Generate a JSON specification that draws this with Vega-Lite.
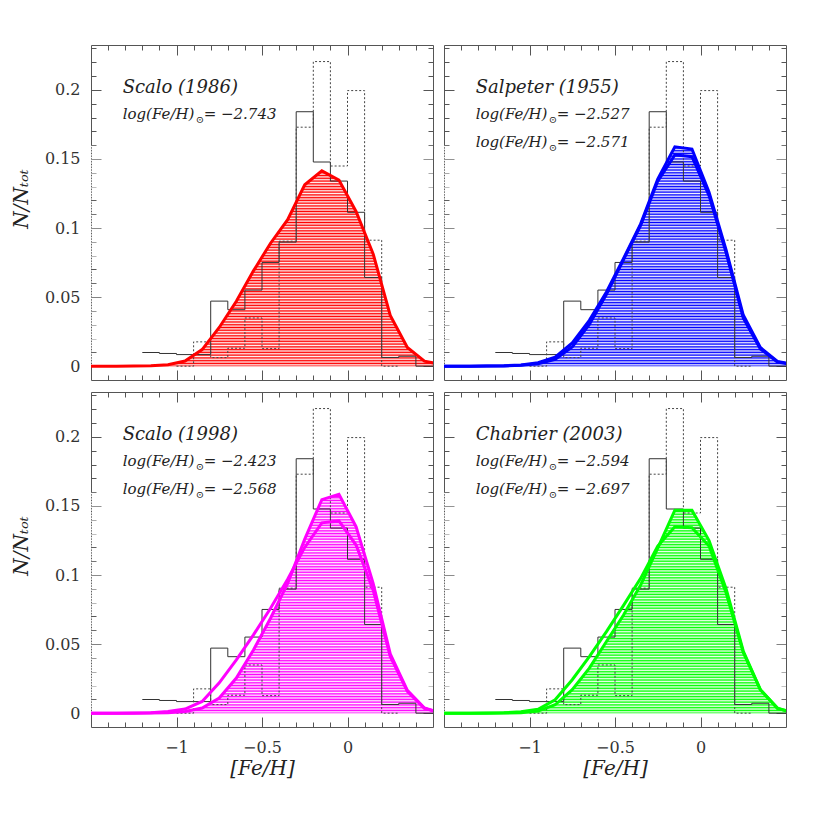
{
  "$schema": "https://vega.github.io/schema/vega-lite/v6.json",
  "background": "white",
  "padding": {"left": 11, "top": 44, "right": 5, "bottom": 5},
  "datasets": {
    "hist": [
      {"kind": "solid", "x": -1.2, "y": 0.0099},
      {"kind": "solid", "x": -1.1, "y": 0.0092},
      {"kind": "solid", "x": -1.0, "y": 0.0084},
      {"kind": "solid", "x": -0.9, "y": 0.0084},
      {"kind": "solid", "x": -0.8, "y": 0.0471},
      {"kind": "solid", "x": -0.7, "y": 0.0409},
      {"kind": "solid", "x": -0.6, "y": 0.0551},
      {"kind": "solid", "x": -0.5, "y": 0.0751},
      {"kind": "solid", "x": -0.4, "y": 0.0898},
      {"kind": "solid", "x": -0.3, "y": 0.1842},
      {"kind": "solid", "x": -0.2, "y": 0.1478},
      {"kind": "solid", "x": -0.1, "y": 0.134},
      {"kind": "solid", "x": 0.0, "y": 0.1114},
      {"kind": "solid", "x": 0.1, "y": 0.0642},
      {"kind": "solid", "x": 0.2, "y": 0.0063},
      {"kind": "solid", "x": 0.3, "y": 0.0072},
      {"kind": "solid", "x": 0.4, "y": 0},
      {"kind": "solid", "x": 0.5, "y": 0},
      {"kind": "dotted", "x": -1.0, "y": 0},
      {"kind": "dotted", "x": -0.9, "y": 0.0176},
      {"kind": "dotted", "x": -0.8, "y": 0.0062},
      {"kind": "dotted", "x": -0.7, "y": 0.013},
      {"kind": "dotted", "x": -0.6, "y": 0.0349},
      {"kind": "dotted", "x": -0.5, "y": 0.0127},
      {"kind": "dotted", "x": -0.4, "y": 0.0905},
      {"kind": "dotted", "x": -0.3, "y": 0.173},
      {"kind": "dotted", "x": -0.2, "y": 0.2205},
      {"kind": "dotted", "x": -0.1, "y": 0.1449},
      {"kind": "dotted", "x": 0.0, "y": 0.1995},
      {"kind": "dotted", "x": 0.1, "y": 0.0912},
      {"kind": "dotted", "x": 0.2, "y": 0},
      {"kind": "dotted", "x": 0.3, "y": 0}
    ],
    "curves": [
      {"panel": "p1", "series": "A", "x": -1.55, "y": 0},
      {"panel": "p1", "series": "A", "x": -1.45, "y": 0},
      {"panel": "p1", "series": "A", "x": -1.35, "y": 0},
      {"panel": "p1", "series": "A", "x": -1.25, "y": 0.0001},
      {"panel": "p1", "series": "A", "x": -1.15, "y": 0.0003},
      {"panel": "p1", "series": "A", "x": -1.05, "y": 0.001},
      {"panel": "p1", "series": "A", "x": -0.95, "y": 0.0037},
      {"panel": "p1", "series": "A", "x": -0.85, "y": 0.012},
      {"panel": "p1", "series": "A", "x": -0.75, "y": 0.028},
      {"panel": "p1", "series": "A", "x": -0.65, "y": 0.047},
      {"panel": "p1", "series": "A", "x": -0.55, "y": 0.069},
      {"panel": "p1", "series": "A", "x": -0.45, "y": 0.089},
      {"panel": "p1", "series": "A", "x": -0.35, "y": 0.106},
      {"panel": "p1", "series": "A", "x": -0.25, "y": 0.1313},
      {"panel": "p1", "series": "A", "x": -0.15, "y": 0.1414},
      {"panel": "p1", "series": "A", "x": -0.05, "y": 0.1347},
      {"panel": "p1", "series": "A", "x": 0.05, "y": 0.112},
      {"panel": "p1", "series": "A", "x": 0.15, "y": 0.0813},
      {"panel": "p1", "series": "A", "x": 0.25, "y": 0.0368},
      {"panel": "p1", "series": "A", "x": 0.35, "y": 0.0135},
      {"panel": "p1", "series": "A", "x": 0.45, "y": 0.0036},
      {"panel": "p1", "series": "A", "x": 0.55, "y": 0.0012},

      {"panel": "p2", "series": "A", "x": -1.55, "y": 0},
      {"panel": "p2", "series": "A", "x": -1.45, "y": 0},
      {"panel": "p2", "series": "A", "x": -1.35, "y": 0},
      {"panel": "p2", "series": "A", "x": -1.25, "y": 0.0001},
      {"panel": "p2", "series": "A", "x": -1.15, "y": 0.0003},
      {"panel": "p2", "series": "A", "x": -1.05, "y": 0.0009},
      {"panel": "p2", "series": "A", "x": -0.95, "y": 0.0025},
      {"panel": "p2", "series": "A", "x": -0.85, "y": 0.0065},
      {"panel": "p2", "series": "A", "x": -0.75, "y": 0.0168},
      {"panel": "p2", "series": "A", "x": -0.65, "y": 0.0332},
      {"panel": "p2", "series": "A", "x": -0.55, "y": 0.0537},
      {"panel": "p2", "series": "A", "x": -0.45, "y": 0.078},
      {"panel": "p2", "series": "A", "x": -0.35, "y": 0.103},
      {"panel": "p2", "series": "A", "x": -0.25, "y": 0.1355},
      {"panel": "p2", "series": "A", "x": -0.15, "y": 0.1588},
      {"panel": "p2", "series": "A", "x": -0.05, "y": 0.1572},
      {"panel": "p2", "series": "A", "x": 0.05, "y": 0.126},
      {"panel": "p2", "series": "A", "x": 0.15, "y": 0.084},
      {"panel": "p2", "series": "A", "x": 0.25, "y": 0.037},
      {"panel": "p2", "series": "A", "x": 0.35, "y": 0.0135},
      {"panel": "p2", "series": "A", "x": 0.45, "y": 0.0035},
      {"panel": "p2", "series": "A", "x": 0.55, "y": 0.001},
      {"panel": "p2", "series": "B", "x": -1.55, "y": 0},
      {"panel": "p2", "series": "B", "x": -1.45, "y": 0},
      {"panel": "p2", "series": "B", "x": -1.35, "y": 0},
      {"panel": "p2", "series": "B", "x": -1.25, "y": 0.0001},
      {"panel": "p2", "series": "B", "x": -1.15, "y": 0.0002},
      {"panel": "p2", "series": "B", "x": -1.05, "y": 0.0006},
      {"panel": "p2", "series": "B", "x": -0.95, "y": 0.0018},
      {"panel": "p2", "series": "B", "x": -0.85, "y": 0.005},
      {"panel": "p2", "series": "B", "x": -0.75, "y": 0.014},
      {"panel": "p2", "series": "B", "x": -0.65, "y": 0.0303},
      {"panel": "p2", "series": "B", "x": -0.55, "y": 0.052},
      {"panel": "p2", "series": "B", "x": -0.45, "y": 0.0772},
      {"panel": "p2", "series": "B", "x": -0.35, "y": 0.102},
      {"panel": "p2", "series": "B", "x": -0.25, "y": 0.134},
      {"panel": "p2", "series": "B", "x": -0.15, "y": 0.153},
      {"panel": "p2", "series": "B", "x": -0.05, "y": 0.1516},
      {"panel": "p2", "series": "B", "x": 0.05, "y": 0.1235},
      {"panel": "p2", "series": "B", "x": 0.15, "y": 0.082},
      {"panel": "p2", "series": "B", "x": 0.25, "y": 0.035},
      {"panel": "p2", "series": "B", "x": 0.35, "y": 0.0125},
      {"panel": "p2", "series": "B", "x": 0.45, "y": 0.003},
      {"panel": "p2", "series": "B", "x": 0.55, "y": 0.001},

      {"panel": "p3", "series": "A", "x": -1.55, "y": 0},
      {"panel": "p3", "series": "A", "x": -1.45, "y": 0},
      {"panel": "p3", "series": "A", "x": -1.35, "y": 0},
      {"panel": "p3", "series": "A", "x": -1.25, "y": 0},
      {"panel": "p3", "series": "A", "x": -1.15, "y": 0.0001},
      {"panel": "p3", "series": "A", "x": -1.05, "y": 0.0004},
      {"panel": "p3", "series": "A", "x": -0.95, "y": 0.0012},
      {"panel": "p3", "series": "A", "x": -0.85, "y": 0.0037},
      {"panel": "p3", "series": "A", "x": -0.75, "y": 0.011},
      {"panel": "p3", "series": "A", "x": -0.65, "y": 0.0254},
      {"panel": "p3", "series": "A", "x": -0.55, "y": 0.0458},
      {"panel": "p3", "series": "A", "x": -0.45, "y": 0.0687},
      {"panel": "p3", "series": "A", "x": -0.35, "y": 0.094},
      {"panel": "p3", "series": "A", "x": -0.25, "y": 0.126},
      {"panel": "p3", "series": "A", "x": -0.15, "y": 0.1546},
      {"panel": "p3", "series": "A", "x": -0.05, "y": 0.1585},
      {"panel": "p3", "series": "A", "x": 0.05, "y": 0.135},
      {"panel": "p3", "series": "A", "x": 0.15, "y": 0.094},
      {"panel": "p3", "series": "A", "x": 0.25, "y": 0.043},
      {"panel": "p3", "series": "A", "x": 0.35, "y": 0.0165},
      {"panel": "p3", "series": "A", "x": 0.45, "y": 0.0038},
      {"panel": "p3", "series": "A", "x": 0.55, "y": 0},
      {"panel": "p3", "series": "B", "x": -1.55, "y": 0},
      {"panel": "p3", "series": "B", "x": -1.45, "y": 0},
      {"panel": "p3", "series": "B", "x": -1.35, "y": 0},
      {"panel": "p3", "series": "B", "x": -1.25, "y": 0.0001},
      {"panel": "p3", "series": "B", "x": -1.15, "y": 0.0004},
      {"panel": "p3", "series": "B", "x": -1.05, "y": 0.0012},
      {"panel": "p3", "series": "B", "x": -0.95, "y": 0.003},
      {"panel": "p3", "series": "B", "x": -0.85, "y": 0.0085},
      {"panel": "p3", "series": "B", "x": -0.75, "y": 0.022},
      {"panel": "p3", "series": "B", "x": -0.65, "y": 0.0386},
      {"panel": "p3", "series": "B", "x": -0.55, "y": 0.0567},
      {"panel": "p3", "series": "B", "x": -0.45, "y": 0.076},
      {"panel": "p3", "series": "B", "x": -0.35, "y": 0.097},
      {"panel": "p3", "series": "B", "x": -0.25, "y": 0.12},
      {"panel": "p3", "series": "B", "x": -0.15, "y": 0.1378},
      {"panel": "p3", "series": "B", "x": -0.05, "y": 0.1392},
      {"panel": "p3", "series": "B", "x": 0.05, "y": 0.1217},
      {"panel": "p3", "series": "B", "x": 0.15, "y": 0.089},
      {"panel": "p3", "series": "B", "x": 0.25, "y": 0.041},
      {"panel": "p3", "series": "B", "x": 0.35, "y": 0.0158},
      {"panel": "p3", "series": "B", "x": 0.45, "y": 0.0035},
      {"panel": "p3", "series": "B", "x": 0.55, "y": 0},

      {"panel": "p4", "series": "A", "x": -1.55, "y": 0},
      {"panel": "p4", "series": "A", "x": -1.45, "y": 0},
      {"panel": "p4", "series": "A", "x": -1.35, "y": 0},
      {"panel": "p4", "series": "A", "x": -1.25, "y": 0},
      {"panel": "p4", "series": "A", "x": -1.15, "y": 0.0001},
      {"panel": "p4", "series": "A", "x": -1.05, "y": 0.0004},
      {"panel": "p4", "series": "A", "x": -0.95, "y": 0.0015},
      {"panel": "p4", "series": "A", "x": -0.85, "y": 0.0061},
      {"panel": "p4", "series": "A", "x": -0.75, "y": 0.017},
      {"panel": "p4", "series": "A", "x": -0.65, "y": 0.0326},
      {"panel": "p4", "series": "A", "x": -0.55, "y": 0.0519},
      {"panel": "p4", "series": "A", "x": -0.45, "y": 0.0711},
      {"panel": "p4", "series": "A", "x": -0.35, "y": 0.0928},
      {"panel": "p4", "series": "A", "x": -0.25, "y": 0.1195},
      {"panel": "p4", "series": "A", "x": -0.15, "y": 0.1469},
      {"panel": "p4", "series": "A", "x": -0.05, "y": 0.1469},
      {"panel": "p4", "series": "A", "x": 0.05, "y": 0.125},
      {"panel": "p4", "series": "A", "x": 0.15, "y": 0.09},
      {"panel": "p4", "series": "A", "x": 0.25, "y": 0.045},
      {"panel": "p4", "series": "A", "x": 0.35, "y": 0.017},
      {"panel": "p4", "series": "A", "x": 0.45, "y": 0.0037},
      {"panel": "p4", "series": "A", "x": 0.55, "y": 0},
      {"panel": "p4", "series": "B", "x": -1.55, "y": 0},
      {"panel": "p4", "series": "B", "x": -1.45, "y": 0},
      {"panel": "p4", "series": "B", "x": -1.35, "y": 0},
      {"panel": "p4", "series": "B", "x": -1.25, "y": 0.0001},
      {"panel": "p4", "series": "B", "x": -1.15, "y": 0.0003},
      {"panel": "p4", "series": "B", "x": -1.05, "y": 0.001},
      {"panel": "p4", "series": "B", "x": -0.95, "y": 0.0028},
      {"panel": "p4", "series": "B", "x": -0.85, "y": 0.0097},
      {"panel": "p4", "series": "B", "x": -0.75, "y": 0.0242},
      {"panel": "p4", "series": "B", "x": -0.65, "y": 0.041},
      {"panel": "p4", "series": "B", "x": -0.55, "y": 0.059},
      {"panel": "p4", "series": "B", "x": -0.45, "y": 0.078},
      {"panel": "p4", "series": "B", "x": -0.35, "y": 0.0976},
      {"panel": "p4", "series": "B", "x": -0.25, "y": 0.121},
      {"panel": "p4", "series": "B", "x": -0.15, "y": 0.1349},
      {"panel": "p4", "series": "B", "x": -0.05, "y": 0.1342},
      {"panel": "p4", "series": "B", "x": 0.05, "y": 0.121},
      {"panel": "p4", "series": "B", "x": 0.15, "y": 0.087},
      {"panel": "p4", "series": "B", "x": 0.25, "y": 0.044},
      {"panel": "p4", "series": "B", "x": 0.35, "y": 0.017},
      {"panel": "p4", "series": "B", "x": 0.45, "y": 0.0035},
      {"panel": "p4", "series": "B", "x": 0.55, "y": 0}
    ],
    "notes": [
      {"panel": "p1", "kind": "title", "label": "Scalo (1986)", "x": -1.315, "y": 0.1975},
      {"panel": "p1", "kind": "log", "label": "= −2.743", "x": -1.315, "y": 0.179},
      {"panel": "p2", "kind": "title", "label": "Salpeter (1955)", "x": -1.315, "y": 0.1975},
      {"panel": "p2", "kind": "log", "label": "= −2.527", "x": -1.315, "y": 0.179},
      {"panel": "p2", "kind": "log", "label": "= −2.571", "x": -1.315, "y": 0.1585},
      {"panel": "p3", "kind": "title", "label": "Scalo (1998)", "x": -1.315, "y": 0.1975},
      {"panel": "p3", "kind": "log", "label": "= −2.423", "x": -1.315, "y": 0.179},
      {"panel": "p3", "kind": "log", "label": "= −2.568", "x": -1.315, "y": 0.1585},
      {"panel": "p4", "kind": "title", "label": "Chabrier (2003)", "x": -1.315, "y": 0.1975},
      {"panel": "p4", "kind": "log", "label": "= −2.594", "x": -1.315, "y": 0.179},
      {"panel": "p4", "kind": "log", "label": "= −2.697", "x": -1.315, "y": 0.1585}
    ]
  },
  "columns": 2,
  "spacing": {"row": 12, "column": 11},
  "bounds": "flush",
  "concat": [
    {
      "width": 342, "height": 335,
      "resolve": {"axis": {"x": "independent", "y": "independent"}},
      "layer": [
        {"data": {"name": "curves"}, "transform": [{"filter": "datum.panel == 'p1' && datum.series == 'A'"}],
         "mark": {"type": "area", "color": "#ff0000", "clip": true},
         "encoding": {
           "x": {"field": "x", "type": "quantitative", "scale": {"domain": [-1.5, 0.5], "nice": false, "zero": false}, "axis": {"orient": "bottom", "values": [-1, -0.5, 0], "tickSize": -10, "labels": false, "title": null}},
           "y": {"field": "y", "type": "quantitative", "scale": {"domain": [-0.01, 0.2325], "nice": false, "zero": false}, "axis": {"orient": "left", "values": [0, 0.05, 0.1, 0.15, 0.2], "format": "~g", "tickSize": -10, "labelPadding": 21, "title": "N/Nₜₒₜ", "titleX": -70, "titleY": 153.5, "titleAngle": -90, "titleAlign": "center", "titleBaseline": "middle"}},
           "y2": {"datum": 0}}},
        {"data": {"values": [{"band": "hatch"}]},
         "mark": {"type": "rect", "clip": true, "strokeWidth": 0, "fill": {"gradient": "linear", "x1": 0, "y1": 0, "x2": 0, "y2": 1, "stops": [
            {"offset": 0, "color": "rgba(255,255,255,0)"}, {"offset": 0.00625, "color": "rgba(255,255,255,0.95)"}, {"offset": 0.0125, "color": "rgba(255,255,255,0)"}, {"offset": 0.01875, "color": "rgba(255,255,255,0.95)"},
            {"offset": 0.025, "color": "rgba(255,255,255,0)"}, {"offset": 0.03125, "color": "rgba(255,255,255,0.95)"}, {"offset": 0.0375, "color": "rgba(255,255,255,0)"}, {"offset": 0.04375, "color": "rgba(255,255,255,0.95)"},
            {"offset": 0.05, "color": "rgba(255,255,255,0)"}, {"offset": 0.05625, "color": "rgba(255,255,255,0.95)"}, {"offset": 0.0625, "color": "rgba(255,255,255,0)"}, {"offset": 0.06875, "color": "rgba(255,255,255,0.95)"},
            {"offset": 0.075, "color": "rgba(255,255,255,0)"}, {"offset": 0.08125, "color": "rgba(255,255,255,0.95)"}, {"offset": 0.0875, "color": "rgba(255,255,255,0)"}, {"offset": 0.09375, "color": "rgba(255,255,255,0.95)"},
            {"offset": 0.1, "color": "rgba(255,255,255,0)"}, {"offset": 0.10625, "color": "rgba(255,255,255,0.95)"}, {"offset": 0.1125, "color": "rgba(255,255,255,0)"}, {"offset": 0.11875, "color": "rgba(255,255,255,0.95)"},
            {"offset": 0.125, "color": "rgba(255,255,255,0)"}, {"offset": 0.13125, "color": "rgba(255,255,255,0.95)"}, {"offset": 0.1375, "color": "rgba(255,255,255,0)"}, {"offset": 0.14375, "color": "rgba(255,255,255,0.95)"},
            {"offset": 0.15, "color": "rgba(255,255,255,0)"}, {"offset": 0.15625, "color": "rgba(255,255,255,0.95)"}, {"offset": 0.1625, "color": "rgba(255,255,255,0)"}, {"offset": 0.16875, "color": "rgba(255,255,255,0.95)"},
            {"offset": 0.175, "color": "rgba(255,255,255,0)"}, {"offset": 0.18125, "color": "rgba(255,255,255,0.95)"}, {"offset": 0.1875, "color": "rgba(255,255,255,0)"}, {"offset": 0.19375, "color": "rgba(255,255,255,0.95)"},
            {"offset": 0.2, "color": "rgba(255,255,255,0)"}, {"offset": 0.20625, "color": "rgba(255,255,255,0.95)"}, {"offset": 0.2125, "color": "rgba(255,255,255,0)"}, {"offset": 0.21875, "color": "rgba(255,255,255,0.95)"},
            {"offset": 0.225, "color": "rgba(255,255,255,0)"}, {"offset": 0.23125, "color": "rgba(255,255,255,0.95)"}, {"offset": 0.2375, "color": "rgba(255,255,255,0)"}, {"offset": 0.24375, "color": "rgba(255,255,255,0.95)"},
            {"offset": 0.25, "color": "rgba(255,255,255,0)"}, {"offset": 0.25625, "color": "rgba(255,255,255,0.95)"}, {"offset": 0.2625, "color": "rgba(255,255,255,0)"}, {"offset": 0.26875, "color": "rgba(255,255,255,0.95)"},
            {"offset": 0.275, "color": "rgba(255,255,255,0)"}, {"offset": 0.28125, "color": "rgba(255,255,255,0.95)"}, {"offset": 0.2875, "color": "rgba(255,255,255,0)"}, {"offset": 0.29375, "color": "rgba(255,255,255,0.95)"},
            {"offset": 0.3, "color": "rgba(255,255,255,0)"}, {"offset": 0.30625, "color": "rgba(255,255,255,0.95)"}, {"offset": 0.3125, "color": "rgba(255,255,255,0)"}, {"offset": 0.31875, "color": "rgba(255,255,255,0.95)"},
            {"offset": 0.325, "color": "rgba(255,255,255,0)"}, {"offset": 0.33125, "color": "rgba(255,255,255,0.95)"}, {"offset": 0.3375, "color": "rgba(255,255,255,0)"}, {"offset": 0.34375, "color": "rgba(255,255,255,0.95)"},
            {"offset": 0.35, "color": "rgba(255,255,255,0)"}, {"offset": 0.35625, "color": "rgba(255,255,255,0.95)"}, {"offset": 0.3625, "color": "rgba(255,255,255,0)"}, {"offset": 0.36875, "color": "rgba(255,255,255,0.95)"},
            {"offset": 0.375, "color": "rgba(255,255,255,0)"}, {"offset": 0.38125, "color": "rgba(255,255,255,0.95)"}, {"offset": 0.3875, "color": "rgba(255,255,255,0)"}, {"offset": 0.39375, "color": "rgba(255,255,255,0.95)"},
            {"offset": 0.4, "color": "rgba(255,255,255,0)"}, {"offset": 0.40625, "color": "rgba(255,255,255,0.95)"}, {"offset": 0.4125, "color": "rgba(255,255,255,0)"}, {"offset": 0.41875, "color": "rgba(255,255,255,0.95)"},
            {"offset": 0.425, "color": "rgba(255,255,255,0)"}, {"offset": 0.43125, "color": "rgba(255,255,255,0.95)"}, {"offset": 0.4375, "color": "rgba(255,255,255,0)"}, {"offset": 0.44375, "color": "rgba(255,255,255,0.95)"},
            {"offset": 0.45, "color": "rgba(255,255,255,0)"}, {"offset": 0.45625, "color": "rgba(255,255,255,0.95)"}, {"offset": 0.4625, "color": "rgba(255,255,255,0)"}, {"offset": 0.46875, "color": "rgba(255,255,255,0.95)"},
            {"offset": 0.475, "color": "rgba(255,255,255,0)"}, {"offset": 0.48125, "color": "rgba(255,255,255,0.95)"}, {"offset": 0.4875, "color": "rgba(255,255,255,0)"}, {"offset": 0.49375, "color": "rgba(255,255,255,0.95)"},
            {"offset": 0.5, "color": "rgba(255,255,255,0)"}, {"offset": 0.50625, "color": "rgba(255,255,255,0.95)"}, {"offset": 0.5125, "color": "rgba(255,255,255,0)"}, {"offset": 0.51875, "color": "rgba(255,255,255,0.95)"},
            {"offset": 0.525, "color": "rgba(255,255,255,0)"}, {"offset": 0.53125, "color": "rgba(255,255,255,0.95)"}, {"offset": 0.5375, "color": "rgba(255,255,255,0)"}, {"offset": 0.54375, "color": "rgba(255,255,255,0.95)"},
            {"offset": 0.55, "color": "rgba(255,255,255,0)"}, {"offset": 0.55625, "color": "rgba(255,255,255,0.95)"}, {"offset": 0.5625, "color": "rgba(255,255,255,0)"}, {"offset": 0.56875, "color": "rgba(255,255,255,0.95)"},
            {"offset": 0.575, "color": "rgba(255,255,255,0)"}, {"offset": 0.58125, "color": "rgba(255,255,255,0.95)"}, {"offset": 0.5875, "color": "rgba(255,255,255,0)"}, {"offset": 0.59375, "color": "rgba(255,255,255,0.95)"},
            {"offset": 0.6, "color": "rgba(255,255,255,0)"}, {"offset": 0.60625, "color": "rgba(255,255,255,0.95)"}, {"offset": 0.6125, "color": "rgba(255,255,255,0)"}, {"offset": 0.61875, "color": "rgba(255,255,255,0.95)"},
            {"offset": 0.625, "color": "rgba(255,255,255,0)"}, {"offset": 0.63125, "color": "rgba(255,255,255,0.95)"}, {"offset": 0.6375, "color": "rgba(255,255,255,0)"}, {"offset": 0.64375, "color": "rgba(255,255,255,0.95)"},
            {"offset": 0.65, "color": "rgba(255,255,255,0)"}, {"offset": 0.65625, "color": "rgba(255,255,255,0.95)"}, {"offset": 0.6625, "color": "rgba(255,255,255,0)"}, {"offset": 0.66875, "color": "rgba(255,255,255,0.95)"},
            {"offset": 0.675, "color": "rgba(255,255,255,0)"}, {"offset": 0.68125, "color": "rgba(255,255,255,0.95)"}, {"offset": 0.6875, "color": "rgba(255,255,255,0)"}, {"offset": 0.69375, "color": "rgba(255,255,255,0.95)"},
            {"offset": 0.7, "color": "rgba(255,255,255,0)"}, {"offset": 0.70625, "color": "rgba(255,255,255,0.95)"}, {"offset": 0.7125, "color": "rgba(255,255,255,0)"}, {"offset": 0.71875, "color": "rgba(255,255,255,0.95)"},
            {"offset": 0.725, "color": "rgba(255,255,255,0)"}, {"offset": 0.73125, "color": "rgba(255,255,255,0.95)"}, {"offset": 0.7375, "color": "rgba(255,255,255,0)"}, {"offset": 0.74375, "color": "rgba(255,255,255,0.95)"},
            {"offset": 0.75, "color": "rgba(255,255,255,0)"}, {"offset": 0.75625, "color": "rgba(255,255,255,0.95)"}, {"offset": 0.7625, "color": "rgba(255,255,255,0)"}, {"offset": 0.76875, "color": "rgba(255,255,255,0.95)"},
            {"offset": 0.775, "color": "rgba(255,255,255,0)"}, {"offset": 0.78125, "color": "rgba(255,255,255,0.95)"}, {"offset": 0.7875, "color": "rgba(255,255,255,0)"}, {"offset": 0.79375, "color": "rgba(255,255,255,0.95)"},
            {"offset": 0.8, "color": "rgba(255,255,255,0)"}, {"offset": 0.80625, "color": "rgba(255,255,255,0.95)"}, {"offset": 0.8125, "color": "rgba(255,255,255,0)"}, {"offset": 0.81875, "color": "rgba(255,255,255,0.95)"},
            {"offset": 0.825, "color": "rgba(255,255,255,0)"}, {"offset": 0.83125, "color": "rgba(255,255,255,0.95)"}, {"offset": 0.8375, "color": "rgba(255,255,255,0)"}, {"offset": 0.84375, "color": "rgba(255,255,255,0.95)"},
            {"offset": 0.85, "color": "rgba(255,255,255,0)"}, {"offset": 0.85625, "color": "rgba(255,255,255,0.95)"}, {"offset": 0.8625, "color": "rgba(255,255,255,0)"}, {"offset": 0.86875, "color": "rgba(255,255,255,0.95)"},
            {"offset": 0.875, "color": "rgba(255,255,255,0)"}, {"offset": 0.88125, "color": "rgba(255,255,255,0.95)"}, {"offset": 0.8875, "color": "rgba(255,255,255,0)"}, {"offset": 0.89375, "color": "rgba(255,255,255,0.95)"},
            {"offset": 0.9, "color": "rgba(255,255,255,0)"}, {"offset": 0.90625, "color": "rgba(255,255,255,0.95)"}, {"offset": 0.9125, "color": "rgba(255,255,255,0)"}, {"offset": 0.91875, "color": "rgba(255,255,255,0.95)"},
            {"offset": 0.925, "color": "rgba(255,255,255,0)"}, {"offset": 0.93125, "color": "rgba(255,255,255,0.95)"}, {"offset": 0.9375, "color": "rgba(255,255,255,0)"}, {"offset": 0.94375, "color": "rgba(255,255,255,0.95)"},
            {"offset": 0.95, "color": "rgba(255,255,255,0)"}, {"offset": 0.95625, "color": "rgba(255,255,255,0.95)"}, {"offset": 0.9625, "color": "rgba(255,255,255,0)"}, {"offset": 0.96875, "color": "rgba(255,255,255,0.95)"},
            {"offset": 0.975, "color": "rgba(255,255,255,0)"}, {"offset": 0.98125, "color": "rgba(255,255,255,0.95)"}, {"offset": 0.9875, "color": "rgba(255,255,255,0)"}, {"offset": 0.99375, "color": "rgba(255,255,255,0.95)"},
            {"offset": 1, "color": "rgba(255,255,255,0)"}]}},
         "encoding": {
           "x": {"datum": -1.5, "type": "quantitative", "scale": {"domain": [-1.5, 0.5], "nice": false, "zero": false}, "axis": null},
           "x2": {"datum": 0.5},
           "y": {"datum": 0, "type": "quantitative", "scale": {"domain": [-0.01, 0.2325], "nice": false, "zero": false}, "axis": null},
           "y2": {"datum": 0.16}}},
        {"data": {"name": "hist"}, "transform": [{"filter": "datum.kind == 'solid'"}],
         "mark": {"type": "line", "interpolate": "step-after", "color": "#333", "strokeWidth": 1, "clip": true},
         "encoding": {
           "x": {"field": "x", "type": "quantitative", "scale": {"domain": [-1.5, 0.5], "nice": false, "zero": false}, "axis": {"orient": "top", "values": [-1, -0.5, 0], "tickSize": -10, "labels": false, "title": null}},
           "y": {"field": "y", "type": "quantitative", "scale": {"domain": [-0.01, 0.2325], "nice": false, "zero": false}, "axis": {"orient": "right", "values": [0, 0.05, 0.1, 0.15, 0.2], "tickSize": -10, "labels": false, "title": null}}}},
        {"data": {"name": "hist"}, "transform": [{"filter": "datum.kind == 'dotted'"}],
         "mark": {"type": "line", "interpolate": "step-after", "color": "#444", "strokeWidth": 1, "strokeDash": [2, 2], "clip": true},
         "encoding": {
           "x": {"field": "x", "type": "quantitative", "scale": {"domain": [-1.5, 0.5], "nice": false, "zero": false}, "axis": {"orient": "bottom", "values": [-1.4, -1.3, -1.2, -1.1, -0.9, -0.8, -0.7, -0.6, -0.4, -0.3, -0.2, -0.1, 0.1, 0.2, 0.3, 0.4], "tickSize": -5, "labels": false, "domain": false, "title": null}},
           "y": {"field": "y", "type": "quantitative", "scale": {"domain": [-0.01, 0.2325], "nice": false, "zero": false}, "axis": {"orient": "left", "values": [0.01, 0.02, 0.03, 0.04, 0.06, 0.07, 0.08, 0.09, 0.11, 0.12, 0.13, 0.14, 0.16, 0.17, 0.18, 0.19, 0.21, 0.22, 0.23], "tickSize": -5, "labels": false, "domain": false, "title": null}}}},
        {"data": {"name": "curves"}, "transform": [{"filter": "datum.panel == 'p1'"}],
         "mark": {"type": "line", "color": "#ff0000", "strokeWidth": 3, "clip": true},
         "encoding": {
           "x": {"field": "x", "type": "quantitative", "scale": {"domain": [-1.5, 0.5], "nice": false, "zero": false}, "axis": {"orient": "top", "values": [-1.4, -1.3, -1.2, -1.1, -0.9, -0.8, -0.7, -0.6, -0.4, -0.3, -0.2, -0.1, 0.1, 0.2, 0.3, 0.4], "tickSize": -5, "labels": false, "domain": false, "title": null}},
           "y": {"field": "y", "type": "quantitative", "scale": {"domain": [-0.01, 0.2325], "nice": false, "zero": false}, "axis": {"orient": "right", "values": [0.01, 0.02, 0.03, 0.04, 0.06, 0.07, 0.08, 0.09, 0.11, 0.12, 0.13, 0.14, 0.16, 0.17, 0.18, 0.19, 0.21, 0.22, 0.23], "tickSize": -5, "labels": false, "domain": false, "title": null}},
           "detail": {"field": "series"}}},
        {"data": {"name": "notes"}, "transform": [{"filter": "datum.panel == 'p1' && datum.kind == 'title'"}],
         "mark": {"type": "text", "align": "left", "baseline": "alphabetic", "font": "DejaVu Serif", "fontStyle": "italic", "fontSize": 18, "color": "#222"},
         "encoding": {"x": {"field": "x", "type": "quantitative", "axis": null}, "y": {"field": "y", "type": "quantitative", "axis": null}, "text": {"field": "label"}}},
        {"data": {"name": "notes"}, "transform": [{"filter": "datum.panel == 'p1' && datum.kind == 'log'"}],
         "mark": {"type": "text", "text": "log(Fe/H)", "align": "left", "baseline": "alphabetic", "font": "DejaVu Serif", "fontStyle": "italic", "fontSize": 15, "color": "#222"},
         "encoding": {"x": {"field": "x", "type": "quantitative", "axis": null}, "y": {"field": "y", "type": "quantitative", "axis": null}}},
        {"data": {"name": "notes"}, "transform": [{"filter": "datum.panel == 'p1' && datum.kind == 'log'"}],
         "mark": {"type": "text", "text": "⊙", "align": "left", "baseline": "alphabetic", "dx": 73, "dy": 4, "font": "DejaVu Serif", "fontSize": 10, "color": "#222"},
         "encoding": {"x": {"field": "x", "type": "quantitative", "axis": null}, "y": {"field": "y", "type": "quantitative", "axis": null}}},
        {"data": {"name": "notes"}, "transform": [{"filter": "datum.panel == 'p1' && datum.kind == 'log'"}],
         "mark": {"type": "text", "align": "left", "baseline": "alphabetic", "dx": 81, "font": "DejaVu Serif", "fontStyle": "italic", "fontSize": 15, "color": "#222"},
         "encoding": {"x": {"field": "x", "type": "quantitative", "axis": null}, "y": {"field": "y", "type": "quantitative", "axis": null}, "text": {"field": "label"}}}
      ]
    },
    {
      "width": 342, "height": 335,
      "resolve": {"axis": {"x": "independent", "y": "independent"}},
      "layer": [
        {"data": {"name": "curves"}, "transform": [{"filter": "datum.panel == 'p2' && datum.series == 'A'"}],
         "mark": {"type": "area", "color": "#0000ff", "clip": true},
         "encoding": {
           "x": {"field": "x", "type": "quantitative", "scale": {"domain": [-1.5, 0.5], "nice": false, "zero": false}, "axis": {"orient": "bottom", "values": [-1, -0.5, 0], "tickSize": -10, "labels": false, "title": null}},
           "y": {"field": "y", "type": "quantitative", "scale": {"domain": [-0.01, 0.2325], "nice": false, "zero": false}, "axis": {"orient": "left", "values": [0, 0.05, 0.1, 0.15, 0.2], "tickSize": -10, "labels": false, "title": null}},
           "y2": {"datum": 0}}},
        {"data": {"values": [{"band": "hatch"}]},
         "mark": {"type": "rect", "clip": true, "strokeWidth": 0, "fill": {"gradient": "linear", "x1": 0, "y1": 0, "x2": 0, "y2": 1, "stops": [
            {"offset": 0, "color": "rgba(255,255,255,0)"}, {"offset": 0.00625, "color": "rgba(255,255,255,0.95)"}, {"offset": 0.0125, "color": "rgba(255,255,255,0)"}, {"offset": 0.01875, "color": "rgba(255,255,255,0.95)"},
            {"offset": 0.025, "color": "rgba(255,255,255,0)"}, {"offset": 0.03125, "color": "rgba(255,255,255,0.95)"}, {"offset": 0.0375, "color": "rgba(255,255,255,0)"}, {"offset": 0.04375, "color": "rgba(255,255,255,0.95)"},
            {"offset": 0.05, "color": "rgba(255,255,255,0)"}, {"offset": 0.05625, "color": "rgba(255,255,255,0.95)"}, {"offset": 0.0625, "color": "rgba(255,255,255,0)"}, {"offset": 0.06875, "color": "rgba(255,255,255,0.95)"},
            {"offset": 0.075, "color": "rgba(255,255,255,0)"}, {"offset": 0.08125, "color": "rgba(255,255,255,0.95)"}, {"offset": 0.0875, "color": "rgba(255,255,255,0)"}, {"offset": 0.09375, "color": "rgba(255,255,255,0.95)"},
            {"offset": 0.1, "color": "rgba(255,255,255,0)"}, {"offset": 0.10625, "color": "rgba(255,255,255,0.95)"}, {"offset": 0.1125, "color": "rgba(255,255,255,0)"}, {"offset": 0.11875, "color": "rgba(255,255,255,0.95)"},
            {"offset": 0.125, "color": "rgba(255,255,255,0)"}, {"offset": 0.13125, "color": "rgba(255,255,255,0.95)"}, {"offset": 0.1375, "color": "rgba(255,255,255,0)"}, {"offset": 0.14375, "color": "rgba(255,255,255,0.95)"},
            {"offset": 0.15, "color": "rgba(255,255,255,0)"}, {"offset": 0.15625, "color": "rgba(255,255,255,0.95)"}, {"offset": 0.1625, "color": "rgba(255,255,255,0)"}, {"offset": 0.16875, "color": "rgba(255,255,255,0.95)"},
            {"offset": 0.175, "color": "rgba(255,255,255,0)"}, {"offset": 0.18125, "color": "rgba(255,255,255,0.95)"}, {"offset": 0.1875, "color": "rgba(255,255,255,0)"}, {"offset": 0.19375, "color": "rgba(255,255,255,0.95)"},
            {"offset": 0.2, "color": "rgba(255,255,255,0)"}, {"offset": 0.20625, "color": "rgba(255,255,255,0.95)"}, {"offset": 0.2125, "color": "rgba(255,255,255,0)"}, {"offset": 0.21875, "color": "rgba(255,255,255,0.95)"},
            {"offset": 0.225, "color": "rgba(255,255,255,0)"}, {"offset": 0.23125, "color": "rgba(255,255,255,0.95)"}, {"offset": 0.2375, "color": "rgba(255,255,255,0)"}, {"offset": 0.24375, "color": "rgba(255,255,255,0.95)"},
            {"offset": 0.25, "color": "rgba(255,255,255,0)"}, {"offset": 0.25625, "color": "rgba(255,255,255,0.95)"}, {"offset": 0.2625, "color": "rgba(255,255,255,0)"}, {"offset": 0.26875, "color": "rgba(255,255,255,0.95)"},
            {"offset": 0.275, "color": "rgba(255,255,255,0)"}, {"offset": 0.28125, "color": "rgba(255,255,255,0.95)"}, {"offset": 0.2875, "color": "rgba(255,255,255,0)"}, {"offset": 0.29375, "color": "rgba(255,255,255,0.95)"},
            {"offset": 0.3, "color": "rgba(255,255,255,0)"}, {"offset": 0.30625, "color": "rgba(255,255,255,0.95)"}, {"offset": 0.3125, "color": "rgba(255,255,255,0)"}, {"offset": 0.31875, "color": "rgba(255,255,255,0.95)"},
            {"offset": 0.325, "color": "rgba(255,255,255,0)"}, {"offset": 0.33125, "color": "rgba(255,255,255,0.95)"}, {"offset": 0.3375, "color": "rgba(255,255,255,0)"}, {"offset": 0.34375, "color": "rgba(255,255,255,0.95)"},
            {"offset": 0.35, "color": "rgba(255,255,255,0)"}, {"offset": 0.35625, "color": "rgba(255,255,255,0.95)"}, {"offset": 0.3625, "color": "rgba(255,255,255,0)"}, {"offset": 0.36875, "color": "rgba(255,255,255,0.95)"},
            {"offset": 0.375, "color": "rgba(255,255,255,0)"}, {"offset": 0.38125, "color": "rgba(255,255,255,0.95)"}, {"offset": 0.3875, "color": "rgba(255,255,255,0)"}, {"offset": 0.39375, "color": "rgba(255,255,255,0.95)"},
            {"offset": 0.4, "color": "rgba(255,255,255,0)"}, {"offset": 0.40625, "color": "rgba(255,255,255,0.95)"}, {"offset": 0.4125, "color": "rgba(255,255,255,0)"}, {"offset": 0.41875, "color": "rgba(255,255,255,0.95)"},
            {"offset": 0.425, "color": "rgba(255,255,255,0)"}, {"offset": 0.43125, "color": "rgba(255,255,255,0.95)"}, {"offset": 0.4375, "color": "rgba(255,255,255,0)"}, {"offset": 0.44375, "color": "rgba(255,255,255,0.95)"},
            {"offset": 0.45, "color": "rgba(255,255,255,0)"}, {"offset": 0.45625, "color": "rgba(255,255,255,0.95)"}, {"offset": 0.4625, "color": "rgba(255,255,255,0)"}, {"offset": 0.46875, "color": "rgba(255,255,255,0.95)"},
            {"offset": 0.475, "color": "rgba(255,255,255,0)"}, {"offset": 0.48125, "color": "rgba(255,255,255,0.95)"}, {"offset": 0.4875, "color": "rgba(255,255,255,0)"}, {"offset": 0.49375, "color": "rgba(255,255,255,0.95)"},
            {"offset": 0.5, "color": "rgba(255,255,255,0)"}, {"offset": 0.50625, "color": "rgba(255,255,255,0.95)"}, {"offset": 0.5125, "color": "rgba(255,255,255,0)"}, {"offset": 0.51875, "color": "rgba(255,255,255,0.95)"},
            {"offset": 0.525, "color": "rgba(255,255,255,0)"}, {"offset": 0.53125, "color": "rgba(255,255,255,0.95)"}, {"offset": 0.5375, "color": "rgba(255,255,255,0)"}, {"offset": 0.54375, "color": "rgba(255,255,255,0.95)"},
            {"offset": 0.55, "color": "rgba(255,255,255,0)"}, {"offset": 0.55625, "color": "rgba(255,255,255,0.95)"}, {"offset": 0.5625, "color": "rgba(255,255,255,0)"}, {"offset": 0.56875, "color": "rgba(255,255,255,0.95)"},
            {"offset": 0.575, "color": "rgba(255,255,255,0)"}, {"offset": 0.58125, "color": "rgba(255,255,255,0.95)"}, {"offset": 0.5875, "color": "rgba(255,255,255,0)"}, {"offset": 0.59375, "color": "rgba(255,255,255,0.95)"},
            {"offset": 0.6, "color": "rgba(255,255,255,0)"}, {"offset": 0.60625, "color": "rgba(255,255,255,0.95)"}, {"offset": 0.6125, "color": "rgba(255,255,255,0)"}, {"offset": 0.61875, "color": "rgba(255,255,255,0.95)"},
            {"offset": 0.625, "color": "rgba(255,255,255,0)"}, {"offset": 0.63125, "color": "rgba(255,255,255,0.95)"}, {"offset": 0.6375, "color": "rgba(255,255,255,0)"}, {"offset": 0.64375, "color": "rgba(255,255,255,0.95)"},
            {"offset": 0.65, "color": "rgba(255,255,255,0)"}, {"offset": 0.65625, "color": "rgba(255,255,255,0.95)"}, {"offset": 0.6625, "color": "rgba(255,255,255,0)"}, {"offset": 0.66875, "color": "rgba(255,255,255,0.95)"},
            {"offset": 0.675, "color": "rgba(255,255,255,0)"}, {"offset": 0.68125, "color": "rgba(255,255,255,0.95)"}, {"offset": 0.6875, "color": "rgba(255,255,255,0)"}, {"offset": 0.69375, "color": "rgba(255,255,255,0.95)"},
            {"offset": 0.7, "color": "rgba(255,255,255,0)"}, {"offset": 0.70625, "color": "rgba(255,255,255,0.95)"}, {"offset": 0.7125, "color": "rgba(255,255,255,0)"}, {"offset": 0.71875, "color": "rgba(255,255,255,0.95)"},
            {"offset": 0.725, "color": "rgba(255,255,255,0)"}, {"offset": 0.73125, "color": "rgba(255,255,255,0.95)"}, {"offset": 0.7375, "color": "rgba(255,255,255,0)"}, {"offset": 0.74375, "color": "rgba(255,255,255,0.95)"},
            {"offset": 0.75, "color": "rgba(255,255,255,0)"}, {"offset": 0.75625, "color": "rgba(255,255,255,0.95)"}, {"offset": 0.7625, "color": "rgba(255,255,255,0)"}, {"offset": 0.76875, "color": "rgba(255,255,255,0.95)"},
            {"offset": 0.775, "color": "rgba(255,255,255,0)"}, {"offset": 0.78125, "color": "rgba(255,255,255,0.95)"}, {"offset": 0.7875, "color": "rgba(255,255,255,0)"}, {"offset": 0.79375, "color": "rgba(255,255,255,0.95)"},
            {"offset": 0.8, "color": "rgba(255,255,255,0)"}, {"offset": 0.80625, "color": "rgba(255,255,255,0.95)"}, {"offset": 0.8125, "color": "rgba(255,255,255,0)"}, {"offset": 0.81875, "color": "rgba(255,255,255,0.95)"},
            {"offset": 0.825, "color": "rgba(255,255,255,0)"}, {"offset": 0.83125, "color": "rgba(255,255,255,0.95)"}, {"offset": 0.8375, "color": "rgba(255,255,255,0)"}, {"offset": 0.84375, "color": "rgba(255,255,255,0.95)"},
            {"offset": 0.85, "color": "rgba(255,255,255,0)"}, {"offset": 0.85625, "color": "rgba(255,255,255,0.95)"}, {"offset": 0.8625, "color": "rgba(255,255,255,0)"}, {"offset": 0.86875, "color": "rgba(255,255,255,0.95)"},
            {"offset": 0.875, "color": "rgba(255,255,255,0)"}, {"offset": 0.88125, "color": "rgba(255,255,255,0.95)"}, {"offset": 0.8875, "color": "rgba(255,255,255,0)"}, {"offset": 0.89375, "color": "rgba(255,255,255,0.95)"},
            {"offset": 0.9, "color": "rgba(255,255,255,0)"}, {"offset": 0.90625, "color": "rgba(255,255,255,0.95)"}, {"offset": 0.9125, "color": "rgba(255,255,255,0)"}, {"offset": 0.91875, "color": "rgba(255,255,255,0.95)"},
            {"offset": 0.925, "color": "rgba(255,255,255,0)"}, {"offset": 0.93125, "color": "rgba(255,255,255,0.95)"}, {"offset": 0.9375, "color": "rgba(255,255,255,0)"}, {"offset": 0.94375, "color": "rgba(255,255,255,0.95)"},
            {"offset": 0.95, "color": "rgba(255,255,255,0)"}, {"offset": 0.95625, "color": "rgba(255,255,255,0.95)"}, {"offset": 0.9625, "color": "rgba(255,255,255,0)"}, {"offset": 0.96875, "color": "rgba(255,255,255,0.95)"},
            {"offset": 0.975, "color": "rgba(255,255,255,0)"}, {"offset": 0.98125, "color": "rgba(255,255,255,0.95)"}, {"offset": 0.9875, "color": "rgba(255,255,255,0)"}, {"offset": 0.99375, "color": "rgba(255,255,255,0.95)"},
            {"offset": 1, "color": "rgba(255,255,255,0)"}]}},
         "encoding": {
           "x": {"datum": -1.5, "type": "quantitative", "scale": {"domain": [-1.5, 0.5], "nice": false, "zero": false}, "axis": null},
           "x2": {"datum": 0.5},
           "y": {"datum": 0, "type": "quantitative", "scale": {"domain": [-0.01, 0.2325], "nice": false, "zero": false}, "axis": null},
           "y2": {"datum": 0.16}}},
        {"data": {"name": "hist"}, "transform": [{"filter": "datum.kind == 'solid'"}],
         "mark": {"type": "line", "interpolate": "step-after", "color": "#333", "strokeWidth": 1, "clip": true},
         "encoding": {
           "x": {"field": "x", "type": "quantitative", "scale": {"domain": [-1.5, 0.5], "nice": false, "zero": false}, "axis": {"orient": "top", "values": [-1, -0.5, 0], "tickSize": -10, "labels": false, "title": null}},
           "y": {"field": "y", "type": "quantitative", "scale": {"domain": [-0.01, 0.2325], "nice": false, "zero": false}, "axis": {"orient": "right", "values": [0, 0.05, 0.1, 0.15, 0.2], "tickSize": -10, "labels": false, "title": null}}}},
        {"data": {"name": "hist"}, "transform": [{"filter": "datum.kind == 'dotted'"}],
         "mark": {"type": "line", "interpolate": "step-after", "color": "#444", "strokeWidth": 1, "strokeDash": [2, 2], "clip": true},
         "encoding": {
           "x": {"field": "x", "type": "quantitative", "scale": {"domain": [-1.5, 0.5], "nice": false, "zero": false}, "axis": {"orient": "bottom", "values": [-1.4, -1.3, -1.2, -1.1, -0.9, -0.8, -0.7, -0.6, -0.4, -0.3, -0.2, -0.1, 0.1, 0.2, 0.3, 0.4], "tickSize": -5, "labels": false, "domain": false, "title": null}},
           "y": {"field": "y", "type": "quantitative", "scale": {"domain": [-0.01, 0.2325], "nice": false, "zero": false}, "axis": {"orient": "left", "values": [0.01, 0.02, 0.03, 0.04, 0.06, 0.07, 0.08, 0.09, 0.11, 0.12, 0.13, 0.14, 0.16, 0.17, 0.18, 0.19, 0.21, 0.22, 0.23], "tickSize": -5, "labels": false, "domain": false, "title": null}}}},
        {"data": {"name": "curves"}, "transform": [{"filter": "datum.panel == 'p2'"}],
         "mark": {"type": "line", "color": "#0000ff", "strokeWidth": 3, "clip": true},
         "encoding": {
           "x": {"field": "x", "type": "quantitative", "scale": {"domain": [-1.5, 0.5], "nice": false, "zero": false}, "axis": {"orient": "top", "values": [-1.4, -1.3, -1.2, -1.1, -0.9, -0.8, -0.7, -0.6, -0.4, -0.3, -0.2, -0.1, 0.1, 0.2, 0.3, 0.4], "tickSize": -5, "labels": false, "domain": false, "title": null}},
           "y": {"field": "y", "type": "quantitative", "scale": {"domain": [-0.01, 0.2325], "nice": false, "zero": false}, "axis": {"orient": "right", "values": [0.01, 0.02, 0.03, 0.04, 0.06, 0.07, 0.08, 0.09, 0.11, 0.12, 0.13, 0.14, 0.16, 0.17, 0.18, 0.19, 0.21, 0.22, 0.23], "tickSize": -5, "labels": false, "domain": false, "title": null}},
           "detail": {"field": "series"}}},
        {"data": {"name": "notes"}, "transform": [{"filter": "datum.panel == 'p2' && datum.kind == 'title'"}],
         "mark": {"type": "text", "align": "left", "baseline": "alphabetic", "font": "DejaVu Serif", "fontStyle": "italic", "fontSize": 18, "color": "#222"},
         "encoding": {"x": {"field": "x", "type": "quantitative", "axis": null}, "y": {"field": "y", "type": "quantitative", "axis": null}, "text": {"field": "label"}}},
        {"data": {"name": "notes"}, "transform": [{"filter": "datum.panel == 'p2' && datum.kind == 'log'"}],
         "mark": {"type": "text", "text": "log(Fe/H)", "align": "left", "baseline": "alphabetic", "font": "DejaVu Serif", "fontStyle": "italic", "fontSize": 15, "color": "#222"},
         "encoding": {"x": {"field": "x", "type": "quantitative", "axis": null}, "y": {"field": "y", "type": "quantitative", "axis": null}}},
        {"data": {"name": "notes"}, "transform": [{"filter": "datum.panel == 'p2' && datum.kind == 'log'"}],
         "mark": {"type": "text", "text": "⊙", "align": "left", "baseline": "alphabetic", "dx": 73, "dy": 4, "font": "DejaVu Serif", "fontSize": 10, "color": "#222"},
         "encoding": {"x": {"field": "x", "type": "quantitative", "axis": null}, "y": {"field": "y", "type": "quantitative", "axis": null}}},
        {"data": {"name": "notes"}, "transform": [{"filter": "datum.panel == 'p2' && datum.kind == 'log'"}],
         "mark": {"type": "text", "align": "left", "baseline": "alphabetic", "dx": 81, "font": "DejaVu Serif", "fontStyle": "italic", "fontSize": 15, "color": "#222"},
         "encoding": {"x": {"field": "x", "type": "quantitative", "axis": null}, "y": {"field": "y", "type": "quantitative", "axis": null}, "text": {"field": "label"}}}
      ]
    },
    {
      "width": 342, "height": 335,
      "resolve": {"axis": {"x": "independent", "y": "independent"}},
      "layer": [
        {"data": {"name": "curves"}, "transform": [{"filter": "datum.panel == 'p3' && datum.series == 'A'"}],
         "mark": {"type": "area", "color": "#ff00ff", "clip": true},
         "encoding": {
           "x": {"field": "x", "type": "quantitative", "scale": {"domain": [-1.5, 0.5], "nice": false, "zero": false}, "axis": {"orient": "bottom", "values": [-1, -0.5, 0], "format": "~g", "tickSize": -10, "labelPadding": 22, "title": "[Fe/H]", "titleY": 47, "titleBaseline": "alphabetic", "titleAlign": "center"}},
           "y": {"field": "y", "type": "quantitative", "scale": {"domain": [-0.01, 0.2325], "nice": false, "zero": false}, "axis": {"orient": "left", "values": [0, 0.05, 0.1, 0.15, 0.2], "format": "~g", "tickSize": -10, "labelPadding": 21, "title": "N/Nₜₒₜ", "titleX": -70, "titleY": 153.5, "titleAngle": -90, "titleAlign": "center", "titleBaseline": "middle"}},
           "y2": {"datum": 0}}},
        {"data": {"values": [{"band": "hatch"}]},
         "mark": {"type": "rect", "clip": true, "strokeWidth": 0, "fill": {"gradient": "linear", "x1": 0, "y1": 0, "x2": 0, "y2": 1, "stops": [
            {"offset": 0, "color": "rgba(255,255,255,0)"}, {"offset": 0.00625, "color": "rgba(255,255,255,0.95)"}, {"offset": 0.0125, "color": "rgba(255,255,255,0)"}, {"offset": 0.01875, "color": "rgba(255,255,255,0.95)"},
            {"offset": 0.025, "color": "rgba(255,255,255,0)"}, {"offset": 0.03125, "color": "rgba(255,255,255,0.95)"}, {"offset": 0.0375, "color": "rgba(255,255,255,0)"}, {"offset": 0.04375, "color": "rgba(255,255,255,0.95)"},
            {"offset": 0.05, "color": "rgba(255,255,255,0)"}, {"offset": 0.05625, "color": "rgba(255,255,255,0.95)"}, {"offset": 0.0625, "color": "rgba(255,255,255,0)"}, {"offset": 0.06875, "color": "rgba(255,255,255,0.95)"},
            {"offset": 0.075, "color": "rgba(255,255,255,0)"}, {"offset": 0.08125, "color": "rgba(255,255,255,0.95)"}, {"offset": 0.0875, "color": "rgba(255,255,255,0)"}, {"offset": 0.09375, "color": "rgba(255,255,255,0.95)"},
            {"offset": 0.1, "color": "rgba(255,255,255,0)"}, {"offset": 0.10625, "color": "rgba(255,255,255,0.95)"}, {"offset": 0.1125, "color": "rgba(255,255,255,0)"}, {"offset": 0.11875, "color": "rgba(255,255,255,0.95)"},
            {"offset": 0.125, "color": "rgba(255,255,255,0)"}, {"offset": 0.13125, "color": "rgba(255,255,255,0.95)"}, {"offset": 0.1375, "color": "rgba(255,255,255,0)"}, {"offset": 0.14375, "color": "rgba(255,255,255,0.95)"},
            {"offset": 0.15, "color": "rgba(255,255,255,0)"}, {"offset": 0.15625, "color": "rgba(255,255,255,0.95)"}, {"offset": 0.1625, "color": "rgba(255,255,255,0)"}, {"offset": 0.16875, "color": "rgba(255,255,255,0.95)"},
            {"offset": 0.175, "color": "rgba(255,255,255,0)"}, {"offset": 0.18125, "color": "rgba(255,255,255,0.95)"}, {"offset": 0.1875, "color": "rgba(255,255,255,0)"}, {"offset": 0.19375, "color": "rgba(255,255,255,0.95)"},
            {"offset": 0.2, "color": "rgba(255,255,255,0)"}, {"offset": 0.20625, "color": "rgba(255,255,255,0.95)"}, {"offset": 0.2125, "color": "rgba(255,255,255,0)"}, {"offset": 0.21875, "color": "rgba(255,255,255,0.95)"},
            {"offset": 0.225, "color": "rgba(255,255,255,0)"}, {"offset": 0.23125, "color": "rgba(255,255,255,0.95)"}, {"offset": 0.2375, "color": "rgba(255,255,255,0)"}, {"offset": 0.24375, "color": "rgba(255,255,255,0.95)"},
            {"offset": 0.25, "color": "rgba(255,255,255,0)"}, {"offset": 0.25625, "color": "rgba(255,255,255,0.95)"}, {"offset": 0.2625, "color": "rgba(255,255,255,0)"}, {"offset": 0.26875, "color": "rgba(255,255,255,0.95)"},
            {"offset": 0.275, "color": "rgba(255,255,255,0)"}, {"offset": 0.28125, "color": "rgba(255,255,255,0.95)"}, {"offset": 0.2875, "color": "rgba(255,255,255,0)"}, {"offset": 0.29375, "color": "rgba(255,255,255,0.95)"},
            {"offset": 0.3, "color": "rgba(255,255,255,0)"}, {"offset": 0.30625, "color": "rgba(255,255,255,0.95)"}, {"offset": 0.3125, "color": "rgba(255,255,255,0)"}, {"offset": 0.31875, "color": "rgba(255,255,255,0.95)"},
            {"offset": 0.325, "color": "rgba(255,255,255,0)"}, {"offset": 0.33125, "color": "rgba(255,255,255,0.95)"}, {"offset": 0.3375, "color": "rgba(255,255,255,0)"}, {"offset": 0.34375, "color": "rgba(255,255,255,0.95)"},
            {"offset": 0.35, "color": "rgba(255,255,255,0)"}, {"offset": 0.35625, "color": "rgba(255,255,255,0.95)"}, {"offset": 0.3625, "color": "rgba(255,255,255,0)"}, {"offset": 0.36875, "color": "rgba(255,255,255,0.95)"},
            {"offset": 0.375, "color": "rgba(255,255,255,0)"}, {"offset": 0.38125, "color": "rgba(255,255,255,0.95)"}, {"offset": 0.3875, "color": "rgba(255,255,255,0)"}, {"offset": 0.39375, "color": "rgba(255,255,255,0.95)"},
            {"offset": 0.4, "color": "rgba(255,255,255,0)"}, {"offset": 0.40625, "color": "rgba(255,255,255,0.95)"}, {"offset": 0.4125, "color": "rgba(255,255,255,0)"}, {"offset": 0.41875, "color": "rgba(255,255,255,0.95)"},
            {"offset": 0.425, "color": "rgba(255,255,255,0)"}, {"offset": 0.43125, "color": "rgba(255,255,255,0.95)"}, {"offset": 0.4375, "color": "rgba(255,255,255,0)"}, {"offset": 0.44375, "color": "rgba(255,255,255,0.95)"},
            {"offset": 0.45, "color": "rgba(255,255,255,0)"}, {"offset": 0.45625, "color": "rgba(255,255,255,0.95)"}, {"offset": 0.4625, "color": "rgba(255,255,255,0)"}, {"offset": 0.46875, "color": "rgba(255,255,255,0.95)"},
            {"offset": 0.475, "color": "rgba(255,255,255,0)"}, {"offset": 0.48125, "color": "rgba(255,255,255,0.95)"}, {"offset": 0.4875, "color": "rgba(255,255,255,0)"}, {"offset": 0.49375, "color": "rgba(255,255,255,0.95)"},
            {"offset": 0.5, "color": "rgba(255,255,255,0)"}, {"offset": 0.50625, "color": "rgba(255,255,255,0.95)"}, {"offset": 0.5125, "color": "rgba(255,255,255,0)"}, {"offset": 0.51875, "color": "rgba(255,255,255,0.95)"},
            {"offset": 0.525, "color": "rgba(255,255,255,0)"}, {"offset": 0.53125, "color": "rgba(255,255,255,0.95)"}, {"offset": 0.5375, "color": "rgba(255,255,255,0)"}, {"offset": 0.54375, "color": "rgba(255,255,255,0.95)"},
            {"offset": 0.55, "color": "rgba(255,255,255,0)"}, {"offset": 0.55625, "color": "rgba(255,255,255,0.95)"}, {"offset": 0.5625, "color": "rgba(255,255,255,0)"}, {"offset": 0.56875, "color": "rgba(255,255,255,0.95)"},
            {"offset": 0.575, "color": "rgba(255,255,255,0)"}, {"offset": 0.58125, "color": "rgba(255,255,255,0.95)"}, {"offset": 0.5875, "color": "rgba(255,255,255,0)"}, {"offset": 0.59375, "color": "rgba(255,255,255,0.95)"},
            {"offset": 0.6, "color": "rgba(255,255,255,0)"}, {"offset": 0.60625, "color": "rgba(255,255,255,0.95)"}, {"offset": 0.6125, "color": "rgba(255,255,255,0)"}, {"offset": 0.61875, "color": "rgba(255,255,255,0.95)"},
            {"offset": 0.625, "color": "rgba(255,255,255,0)"}, {"offset": 0.63125, "color": "rgba(255,255,255,0.95)"}, {"offset": 0.6375, "color": "rgba(255,255,255,0)"}, {"offset": 0.64375, "color": "rgba(255,255,255,0.95)"},
            {"offset": 0.65, "color": "rgba(255,255,255,0)"}, {"offset": 0.65625, "color": "rgba(255,255,255,0.95)"}, {"offset": 0.6625, "color": "rgba(255,255,255,0)"}, {"offset": 0.66875, "color": "rgba(255,255,255,0.95)"},
            {"offset": 0.675, "color": "rgba(255,255,255,0)"}, {"offset": 0.68125, "color": "rgba(255,255,255,0.95)"}, {"offset": 0.6875, "color": "rgba(255,255,255,0)"}, {"offset": 0.69375, "color": "rgba(255,255,255,0.95)"},
            {"offset": 0.7, "color": "rgba(255,255,255,0)"}, {"offset": 0.70625, "color": "rgba(255,255,255,0.95)"}, {"offset": 0.7125, "color": "rgba(255,255,255,0)"}, {"offset": 0.71875, "color": "rgba(255,255,255,0.95)"},
            {"offset": 0.725, "color": "rgba(255,255,255,0)"}, {"offset": 0.73125, "color": "rgba(255,255,255,0.95)"}, {"offset": 0.7375, "color": "rgba(255,255,255,0)"}, {"offset": 0.74375, "color": "rgba(255,255,255,0.95)"},
            {"offset": 0.75, "color": "rgba(255,255,255,0)"}, {"offset": 0.75625, "color": "rgba(255,255,255,0.95)"}, {"offset": 0.7625, "color": "rgba(255,255,255,0)"}, {"offset": 0.76875, "color": "rgba(255,255,255,0.95)"},
            {"offset": 0.775, "color": "rgba(255,255,255,0)"}, {"offset": 0.78125, "color": "rgba(255,255,255,0.95)"}, {"offset": 0.7875, "color": "rgba(255,255,255,0)"}, {"offset": 0.79375, "color": "rgba(255,255,255,0.95)"},
            {"offset": 0.8, "color": "rgba(255,255,255,0)"}, {"offset": 0.80625, "color": "rgba(255,255,255,0.95)"}, {"offset": 0.8125, "color": "rgba(255,255,255,0)"}, {"offset": 0.81875, "color": "rgba(255,255,255,0.95)"},
            {"offset": 0.825, "color": "rgba(255,255,255,0)"}, {"offset": 0.83125, "color": "rgba(255,255,255,0.95)"}, {"offset": 0.8375, "color": "rgba(255,255,255,0)"}, {"offset": 0.84375, "color": "rgba(255,255,255,0.95)"},
            {"offset": 0.85, "color": "rgba(255,255,255,0)"}, {"offset": 0.85625, "color": "rgba(255,255,255,0.95)"}, {"offset": 0.8625, "color": "rgba(255,255,255,0)"}, {"offset": 0.86875, "color": "rgba(255,255,255,0.95)"},
            {"offset": 0.875, "color": "rgba(255,255,255,0)"}, {"offset": 0.88125, "color": "rgba(255,255,255,0.95)"}, {"offset": 0.8875, "color": "rgba(255,255,255,0)"}, {"offset": 0.89375, "color": "rgba(255,255,255,0.95)"},
            {"offset": 0.9, "color": "rgba(255,255,255,0)"}, {"offset": 0.90625, "color": "rgba(255,255,255,0.95)"}, {"offset": 0.9125, "color": "rgba(255,255,255,0)"}, {"offset": 0.91875, "color": "rgba(255,255,255,0.95)"},
            {"offset": 0.925, "color": "rgba(255,255,255,0)"}, {"offset": 0.93125, "color": "rgba(255,255,255,0.95)"}, {"offset": 0.9375, "color": "rgba(255,255,255,0)"}, {"offset": 0.94375, "color": "rgba(255,255,255,0.95)"},
            {"offset": 0.95, "color": "rgba(255,255,255,0)"}, {"offset": 0.95625, "color": "rgba(255,255,255,0.95)"}, {"offset": 0.9625, "color": "rgba(255,255,255,0)"}, {"offset": 0.96875, "color": "rgba(255,255,255,0.95)"},
            {"offset": 0.975, "color": "rgba(255,255,255,0)"}, {"offset": 0.98125, "color": "rgba(255,255,255,0.95)"}, {"offset": 0.9875, "color": "rgba(255,255,255,0)"}, {"offset": 0.99375, "color": "rgba(255,255,255,0.95)"},
            {"offset": 1, "color": "rgba(255,255,255,0)"}]}},
         "encoding": {
           "x": {"datum": -1.5, "type": "quantitative", "scale": {"domain": [-1.5, 0.5], "nice": false, "zero": false}, "axis": null},
           "x2": {"datum": 0.5},
           "y": {"datum": 0, "type": "quantitative", "scale": {"domain": [-0.01, 0.2325], "nice": false, "zero": false}, "axis": null},
           "y2": {"datum": 0.16}}},
        {"data": {"name": "hist"}, "transform": [{"filter": "datum.kind == 'solid'"}],
         "mark": {"type": "line", "interpolate": "step-after", "color": "#333", "strokeWidth": 1, "clip": true},
         "encoding": {
           "x": {"field": "x", "type": "quantitative", "scale": {"domain": [-1.5, 0.5], "nice": false, "zero": false}, "axis": {"orient": "top", "values": [-1, -0.5, 0], "tickSize": -10, "labels": false, "title": null}},
           "y": {"field": "y", "type": "quantitative", "scale": {"domain": [-0.01, 0.2325], "nice": false, "zero": false}, "axis": {"orient": "right", "values": [0, 0.05, 0.1, 0.15, 0.2], "tickSize": -10, "labels": false, "title": null}}}},
        {"data": {"name": "hist"}, "transform": [{"filter": "datum.kind == 'dotted'"}],
         "mark": {"type": "line", "interpolate": "step-after", "color": "#444", "strokeWidth": 1, "strokeDash": [2, 2], "clip": true},
         "encoding": {
           "x": {"field": "x", "type": "quantitative", "scale": {"domain": [-1.5, 0.5], "nice": false, "zero": false}, "axis": {"orient": "bottom", "values": [-1.4, -1.3, -1.2, -1.1, -0.9, -0.8, -0.7, -0.6, -0.4, -0.3, -0.2, -0.1, 0.1, 0.2, 0.3, 0.4], "tickSize": -5, "labels": false, "domain": false, "title": null}},
           "y": {"field": "y", "type": "quantitative", "scale": {"domain": [-0.01, 0.2325], "nice": false, "zero": false}, "axis": {"orient": "left", "values": [0.01, 0.02, 0.03, 0.04, 0.06, 0.07, 0.08, 0.09, 0.11, 0.12, 0.13, 0.14, 0.16, 0.17, 0.18, 0.19, 0.21, 0.22, 0.23], "tickSize": -5, "labels": false, "domain": false, "title": null}}}},
        {"data": {"name": "curves"}, "transform": [{"filter": "datum.panel == 'p3'"}],
         "mark": {"type": "line", "color": "#ff00ff", "strokeWidth": 3, "clip": true},
         "encoding": {
           "x": {"field": "x", "type": "quantitative", "scale": {"domain": [-1.5, 0.5], "nice": false, "zero": false}, "axis": {"orient": "top", "values": [-1.4, -1.3, -1.2, -1.1, -0.9, -0.8, -0.7, -0.6, -0.4, -0.3, -0.2, -0.1, 0.1, 0.2, 0.3, 0.4], "tickSize": -5, "labels": false, "domain": false, "title": null}},
           "y": {"field": "y", "type": "quantitative", "scale": {"domain": [-0.01, 0.2325], "nice": false, "zero": false}, "axis": {"orient": "right", "values": [0.01, 0.02, 0.03, 0.04, 0.06, 0.07, 0.08, 0.09, 0.11, 0.12, 0.13, 0.14, 0.16, 0.17, 0.18, 0.19, 0.21, 0.22, 0.23], "tickSize": -5, "labels": false, "domain": false, "title": null}},
           "detail": {"field": "series"}}},
        {"data": {"name": "notes"}, "transform": [{"filter": "datum.panel == 'p3' && datum.kind == 'title'"}],
         "mark": {"type": "text", "align": "left", "baseline": "alphabetic", "font": "DejaVu Serif", "fontStyle": "italic", "fontSize": 18, "color": "#222"},
         "encoding": {"x": {"field": "x", "type": "quantitative", "axis": null}, "y": {"field": "y", "type": "quantitative", "axis": null}, "text": {"field": "label"}}},
        {"data": {"name": "notes"}, "transform": [{"filter": "datum.panel == 'p3' && datum.kind == 'log'"}],
         "mark": {"type": "text", "text": "log(Fe/H)", "align": "left", "baseline": "alphabetic", "font": "DejaVu Serif", "fontStyle": "italic", "fontSize": 15, "color": "#222"},
         "encoding": {"x": {"field": "x", "type": "quantitative", "axis": null}, "y": {"field": "y", "type": "quantitative", "axis": null}}},
        {"data": {"name": "notes"}, "transform": [{"filter": "datum.panel == 'p3' && datum.kind == 'log'"}],
         "mark": {"type": "text", "text": "⊙", "align": "left", "baseline": "alphabetic", "dx": 73, "dy": 4, "font": "DejaVu Serif", "fontSize": 10, "color": "#222"},
         "encoding": {"x": {"field": "x", "type": "quantitative", "axis": null}, "y": {"field": "y", "type": "quantitative", "axis": null}}},
        {"data": {"name": "notes"}, "transform": [{"filter": "datum.panel == 'p3' && datum.kind == 'log'"}],
         "mark": {"type": "text", "align": "left", "baseline": "alphabetic", "dx": 81, "font": "DejaVu Serif", "fontStyle": "italic", "fontSize": 15, "color": "#222"},
         "encoding": {"x": {"field": "x", "type": "quantitative", "axis": null}, "y": {"field": "y", "type": "quantitative", "axis": null}, "text": {"field": "label"}}}
      ]
    },
    {
      "width": 342, "height": 335,
      "resolve": {"axis": {"x": "independent", "y": "independent"}},
      "layer": [
        {"data": {"name": "curves"}, "transform": [{"filter": "datum.panel == 'p4' && datum.series == 'A'"}],
         "mark": {"type": "area", "color": "#00ff00", "clip": true},
         "encoding": {
           "x": {"field": "x", "type": "quantitative", "scale": {"domain": [-1.5, 0.5], "nice": false, "zero": false}, "axis": {"orient": "bottom", "values": [-1, -0.5, 0], "format": "~g", "tickSize": -10, "labelPadding": 22, "title": "[Fe/H]", "titleY": 47, "titleBaseline": "alphabetic", "titleAlign": "center"}},
           "y": {"field": "y", "type": "quantitative", "scale": {"domain": [-0.01, 0.2325], "nice": false, "zero": false}, "axis": {"orient": "left", "values": [0, 0.05, 0.1, 0.15, 0.2], "tickSize": -10, "labels": false, "title": null}},
           "y2": {"datum": 0}}},
        {"data": {"values": [{"band": "hatch"}]},
         "mark": {"type": "rect", "clip": true, "strokeWidth": 0, "fill": {"gradient": "linear", "x1": 0, "y1": 0, "x2": 0, "y2": 1, "stops": [
            {"offset": 0, "color": "rgba(255,255,255,0)"}, {"offset": 0.00625, "color": "rgba(255,255,255,0.95)"}, {"offset": 0.0125, "color": "rgba(255,255,255,0)"}, {"offset": 0.01875, "color": "rgba(255,255,255,0.95)"},
            {"offset": 0.025, "color": "rgba(255,255,255,0)"}, {"offset": 0.03125, "color": "rgba(255,255,255,0.95)"}, {"offset": 0.0375, "color": "rgba(255,255,255,0)"}, {"offset": 0.04375, "color": "rgba(255,255,255,0.95)"},
            {"offset": 0.05, "color": "rgba(255,255,255,0)"}, {"offset": 0.05625, "color": "rgba(255,255,255,0.95)"}, {"offset": 0.0625, "color": "rgba(255,255,255,0)"}, {"offset": 0.06875, "color": "rgba(255,255,255,0.95)"},
            {"offset": 0.075, "color": "rgba(255,255,255,0)"}, {"offset": 0.08125, "color": "rgba(255,255,255,0.95)"}, {"offset": 0.0875, "color": "rgba(255,255,255,0)"}, {"offset": 0.09375, "color": "rgba(255,255,255,0.95)"},
            {"offset": 0.1, "color": "rgba(255,255,255,0)"}, {"offset": 0.10625, "color": "rgba(255,255,255,0.95)"}, {"offset": 0.1125, "color": "rgba(255,255,255,0)"}, {"offset": 0.11875, "color": "rgba(255,255,255,0.95)"},
            {"offset": 0.125, "color": "rgba(255,255,255,0)"}, {"offset": 0.13125, "color": "rgba(255,255,255,0.95)"}, {"offset": 0.1375, "color": "rgba(255,255,255,0)"}, {"offset": 0.14375, "color": "rgba(255,255,255,0.95)"},
            {"offset": 0.15, "color": "rgba(255,255,255,0)"}, {"offset": 0.15625, "color": "rgba(255,255,255,0.95)"}, {"offset": 0.1625, "color": "rgba(255,255,255,0)"}, {"offset": 0.16875, "color": "rgba(255,255,255,0.95)"},
            {"offset": 0.175, "color": "rgba(255,255,255,0)"}, {"offset": 0.18125, "color": "rgba(255,255,255,0.95)"}, {"offset": 0.1875, "color": "rgba(255,255,255,0)"}, {"offset": 0.19375, "color": "rgba(255,255,255,0.95)"},
            {"offset": 0.2, "color": "rgba(255,255,255,0)"}, {"offset": 0.20625, "color": "rgba(255,255,255,0.95)"}, {"offset": 0.2125, "color": "rgba(255,255,255,0)"}, {"offset": 0.21875, "color": "rgba(255,255,255,0.95)"},
            {"offset": 0.225, "color": "rgba(255,255,255,0)"}, {"offset": 0.23125, "color": "rgba(255,255,255,0.95)"}, {"offset": 0.2375, "color": "rgba(255,255,255,0)"}, {"offset": 0.24375, "color": "rgba(255,255,255,0.95)"},
            {"offset": 0.25, "color": "rgba(255,255,255,0)"}, {"offset": 0.25625, "color": "rgba(255,255,255,0.95)"}, {"offset": 0.2625, "color": "rgba(255,255,255,0)"}, {"offset": 0.26875, "color": "rgba(255,255,255,0.95)"},
            {"offset": 0.275, "color": "rgba(255,255,255,0)"}, {"offset": 0.28125, "color": "rgba(255,255,255,0.95)"}, {"offset": 0.2875, "color": "rgba(255,255,255,0)"}, {"offset": 0.29375, "color": "rgba(255,255,255,0.95)"},
            {"offset": 0.3, "color": "rgba(255,255,255,0)"}, {"offset": 0.30625, "color": "rgba(255,255,255,0.95)"}, {"offset": 0.3125, "color": "rgba(255,255,255,0)"}, {"offset": 0.31875, "color": "rgba(255,255,255,0.95)"},
            {"offset": 0.325, "color": "rgba(255,255,255,0)"}, {"offset": 0.33125, "color": "rgba(255,255,255,0.95)"}, {"offset": 0.3375, "color": "rgba(255,255,255,0)"}, {"offset": 0.34375, "color": "rgba(255,255,255,0.95)"},
            {"offset": 0.35, "color": "rgba(255,255,255,0)"}, {"offset": 0.35625, "color": "rgba(255,255,255,0.95)"}, {"offset": 0.3625, "color": "rgba(255,255,255,0)"}, {"offset": 0.36875, "color": "rgba(255,255,255,0.95)"},
            {"offset": 0.375, "color": "rgba(255,255,255,0)"}, {"offset": 0.38125, "color": "rgba(255,255,255,0.95)"}, {"offset": 0.3875, "color": "rgba(255,255,255,0)"}, {"offset": 0.39375, "color": "rgba(255,255,255,0.95)"},
            {"offset": 0.4, "color": "rgba(255,255,255,0)"}, {"offset": 0.40625, "color": "rgba(255,255,255,0.95)"}, {"offset": 0.4125, "color": "rgba(255,255,255,0)"}, {"offset": 0.41875, "color": "rgba(255,255,255,0.95)"},
            {"offset": 0.425, "color": "rgba(255,255,255,0)"}, {"offset": 0.43125, "color": "rgba(255,255,255,0.95)"}, {"offset": 0.4375, "color": "rgba(255,255,255,0)"}, {"offset": 0.44375, "color": "rgba(255,255,255,0.95)"},
            {"offset": 0.45, "color": "rgba(255,255,255,0)"}, {"offset": 0.45625, "color": "rgba(255,255,255,0.95)"}, {"offset": 0.4625, "color": "rgba(255,255,255,0)"}, {"offset": 0.46875, "color": "rgba(255,255,255,0.95)"},
            {"offset": 0.475, "color": "rgba(255,255,255,0)"}, {"offset": 0.48125, "color": "rgba(255,255,255,0.95)"}, {"offset": 0.4875, "color": "rgba(255,255,255,0)"}, {"offset": 0.49375, "color": "rgba(255,255,255,0.95)"},
            {"offset": 0.5, "color": "rgba(255,255,255,0)"}, {"offset": 0.50625, "color": "rgba(255,255,255,0.95)"}, {"offset": 0.5125, "color": "rgba(255,255,255,0)"}, {"offset": 0.51875, "color": "rgba(255,255,255,0.95)"},
            {"offset": 0.525, "color": "rgba(255,255,255,0)"}, {"offset": 0.53125, "color": "rgba(255,255,255,0.95)"}, {"offset": 0.5375, "color": "rgba(255,255,255,0)"}, {"offset": 0.54375, "color": "rgba(255,255,255,0.95)"},
            {"offset": 0.55, "color": "rgba(255,255,255,0)"}, {"offset": 0.55625, "color": "rgba(255,255,255,0.95)"}, {"offset": 0.5625, "color": "rgba(255,255,255,0)"}, {"offset": 0.56875, "color": "rgba(255,255,255,0.95)"},
            {"offset": 0.575, "color": "rgba(255,255,255,0)"}, {"offset": 0.58125, "color": "rgba(255,255,255,0.95)"}, {"offset": 0.5875, "color": "rgba(255,255,255,0)"}, {"offset": 0.59375, "color": "rgba(255,255,255,0.95)"},
            {"offset": 0.6, "color": "rgba(255,255,255,0)"}, {"offset": 0.60625, "color": "rgba(255,255,255,0.95)"}, {"offset": 0.6125, "color": "rgba(255,255,255,0)"}, {"offset": 0.61875, "color": "rgba(255,255,255,0.95)"},
            {"offset": 0.625, "color": "rgba(255,255,255,0)"}, {"offset": 0.63125, "color": "rgba(255,255,255,0.95)"}, {"offset": 0.6375, "color": "rgba(255,255,255,0)"}, {"offset": 0.64375, "color": "rgba(255,255,255,0.95)"},
            {"offset": 0.65, "color": "rgba(255,255,255,0)"}, {"offset": 0.65625, "color": "rgba(255,255,255,0.95)"}, {"offset": 0.6625, "color": "rgba(255,255,255,0)"}, {"offset": 0.66875, "color": "rgba(255,255,255,0.95)"},
            {"offset": 0.675, "color": "rgba(255,255,255,0)"}, {"offset": 0.68125, "color": "rgba(255,255,255,0.95)"}, {"offset": 0.6875, "color": "rgba(255,255,255,0)"}, {"offset": 0.69375, "color": "rgba(255,255,255,0.95)"},
            {"offset": 0.7, "color": "rgba(255,255,255,0)"}, {"offset": 0.70625, "color": "rgba(255,255,255,0.95)"}, {"offset": 0.7125, "color": "rgba(255,255,255,0)"}, {"offset": 0.71875, "color": "rgba(255,255,255,0.95)"},
            {"offset": 0.725, "color": "rgba(255,255,255,0)"}, {"offset": 0.73125, "color": "rgba(255,255,255,0.95)"}, {"offset": 0.7375, "color": "rgba(255,255,255,0)"}, {"offset": 0.74375, "color": "rgba(255,255,255,0.95)"},
            {"offset": 0.75, "color": "rgba(255,255,255,0)"}, {"offset": 0.75625, "color": "rgba(255,255,255,0.95)"}, {"offset": 0.7625, "color": "rgba(255,255,255,0)"}, {"offset": 0.76875, "color": "rgba(255,255,255,0.95)"},
            {"offset": 0.775, "color": "rgba(255,255,255,0)"}, {"offset": 0.78125, "color": "rgba(255,255,255,0.95)"}, {"offset": 0.7875, "color": "rgba(255,255,255,0)"}, {"offset": 0.79375, "color": "rgba(255,255,255,0.95)"},
            {"offset": 0.8, "color": "rgba(255,255,255,0)"}, {"offset": 0.80625, "color": "rgba(255,255,255,0.95)"}, {"offset": 0.8125, "color": "rgba(255,255,255,0)"}, {"offset": 0.81875, "color": "rgba(255,255,255,0.95)"},
            {"offset": 0.825, "color": "rgba(255,255,255,0)"}, {"offset": 0.83125, "color": "rgba(255,255,255,0.95)"}, {"offset": 0.8375, "color": "rgba(255,255,255,0)"}, {"offset": 0.84375, "color": "rgba(255,255,255,0.95)"},
            {"offset": 0.85, "color": "rgba(255,255,255,0)"}, {"offset": 0.85625, "color": "rgba(255,255,255,0.95)"}, {"offset": 0.8625, "color": "rgba(255,255,255,0)"}, {"offset": 0.86875, "color": "rgba(255,255,255,0.95)"},
            {"offset": 0.875, "color": "rgba(255,255,255,0)"}, {"offset": 0.88125, "color": "rgba(255,255,255,0.95)"}, {"offset": 0.8875, "color": "rgba(255,255,255,0)"}, {"offset": 0.89375, "color": "rgba(255,255,255,0.95)"},
            {"offset": 0.9, "color": "rgba(255,255,255,0)"}, {"offset": 0.90625, "color": "rgba(255,255,255,0.95)"}, {"offset": 0.9125, "color": "rgba(255,255,255,0)"}, {"offset": 0.91875, "color": "rgba(255,255,255,0.95)"},
            {"offset": 0.925, "color": "rgba(255,255,255,0)"}, {"offset": 0.93125, "color": "rgba(255,255,255,0.95)"}, {"offset": 0.9375, "color": "rgba(255,255,255,0)"}, {"offset": 0.94375, "color": "rgba(255,255,255,0.95)"},
            {"offset": 0.95, "color": "rgba(255,255,255,0)"}, {"offset": 0.95625, "color": "rgba(255,255,255,0.95)"}, {"offset": 0.9625, "color": "rgba(255,255,255,0)"}, {"offset": 0.96875, "color": "rgba(255,255,255,0.95)"},
            {"offset": 0.975, "color": "rgba(255,255,255,0)"}, {"offset": 0.98125, "color": "rgba(255,255,255,0.95)"}, {"offset": 0.9875, "color": "rgba(255,255,255,0)"}, {"offset": 0.99375, "color": "rgba(255,255,255,0.95)"},
            {"offset": 1, "color": "rgba(255,255,255,0)"}]}},
         "encoding": {
           "x": {"datum": -1.5, "type": "quantitative", "scale": {"domain": [-1.5, 0.5], "nice": false, "zero": false}, "axis": null},
           "x2": {"datum": 0.5},
           "y": {"datum": 0, "type": "quantitative", "scale": {"domain": [-0.01, 0.2325], "nice": false, "zero": false}, "axis": null},
           "y2": {"datum": 0.16}}},
        {"data": {"name": "hist"}, "transform": [{"filter": "datum.kind == 'solid'"}],
         "mark": {"type": "line", "interpolate": "step-after", "color": "#333", "strokeWidth": 1, "clip": true},
         "encoding": {
           "x": {"field": "x", "type": "quantitative", "scale": {"domain": [-1.5, 0.5], "nice": false, "zero": false}, "axis": {"orient": "top", "values": [-1, -0.5, 0], "tickSize": -10, "labels": false, "title": null}},
           "y": {"field": "y", "type": "quantitative", "scale": {"domain": [-0.01, 0.2325], "nice": false, "zero": false}, "axis": {"orient": "right", "values": [0, 0.05, 0.1, 0.15, 0.2], "tickSize": -10, "labels": false, "title": null}}}},
        {"data": {"name": "hist"}, "transform": [{"filter": "datum.kind == 'dotted'"}],
         "mark": {"type": "line", "interpolate": "step-after", "color": "#444", "strokeWidth": 1, "strokeDash": [2, 2], "clip": true},
         "encoding": {
           "x": {"field": "x", "type": "quantitative", "scale": {"domain": [-1.5, 0.5], "nice": false, "zero": false}, "axis": {"orient": "bottom", "values": [-1.4, -1.3, -1.2, -1.1, -0.9, -0.8, -0.7, -0.6, -0.4, -0.3, -0.2, -0.1, 0.1, 0.2, 0.3, 0.4], "tickSize": -5, "labels": false, "domain": false, "title": null}},
           "y": {"field": "y", "type": "quantitative", "scale": {"domain": [-0.01, 0.2325], "nice": false, "zero": false}, "axis": {"orient": "left", "values": [0.01, 0.02, 0.03, 0.04, 0.06, 0.07, 0.08, 0.09, 0.11, 0.12, 0.13, 0.14, 0.16, 0.17, 0.18, 0.19, 0.21, 0.22, 0.23], "tickSize": -5, "labels": false, "domain": false, "title": null}}}},
        {"data": {"name": "curves"}, "transform": [{"filter": "datum.panel == 'p4'"}],
         "mark": {"type": "line", "color": "#00ff00", "strokeWidth": 3, "clip": true},
         "encoding": {
           "x": {"field": "x", "type": "quantitative", "scale": {"domain": [-1.5, 0.5], "nice": false, "zero": false}, "axis": {"orient": "top", "values": [-1.4, -1.3, -1.2, -1.1, -0.9, -0.8, -0.7, -0.6, -0.4, -0.3, -0.2, -0.1, 0.1, 0.2, 0.3, 0.4], "tickSize": -5, "labels": false, "domain": false, "title": null}},
           "y": {"field": "y", "type": "quantitative", "scale": {"domain": [-0.01, 0.2325], "nice": false, "zero": false}, "axis": {"orient": "right", "values": [0.01, 0.02, 0.03, 0.04, 0.06, 0.07, 0.08, 0.09, 0.11, 0.12, 0.13, 0.14, 0.16, 0.17, 0.18, 0.19, 0.21, 0.22, 0.23], "tickSize": -5, "labels": false, "domain": false, "title": null}},
           "detail": {"field": "series"}}},
        {"data": {"name": "notes"}, "transform": [{"filter": "datum.panel == 'p4' && datum.kind == 'title'"}],
         "mark": {"type": "text", "align": "left", "baseline": "alphabetic", "font": "DejaVu Serif", "fontStyle": "italic", "fontSize": 18, "color": "#222"},
         "encoding": {"x": {"field": "x", "type": "quantitative", "axis": null}, "y": {"field": "y", "type": "quantitative", "axis": null}, "text": {"field": "label"}}},
        {"data": {"name": "notes"}, "transform": [{"filter": "datum.panel == 'p4' && datum.kind == 'log'"}],
         "mark": {"type": "text", "text": "log(Fe/H)", "align": "left", "baseline": "alphabetic", "font": "DejaVu Serif", "fontStyle": "italic", "fontSize": 15, "color": "#222"},
         "encoding": {"x": {"field": "x", "type": "quantitative", "axis": null}, "y": {"field": "y", "type": "quantitative", "axis": null}}},
        {"data": {"name": "notes"}, "transform": [{"filter": "datum.panel == 'p4' && datum.kind == 'log'"}],
         "mark": {"type": "text", "text": "⊙", "align": "left", "baseline": "alphabetic", "dx": 73, "dy": 4, "font": "DejaVu Serif", "fontSize": 10, "color": "#222"},
         "encoding": {"x": {"field": "x", "type": "quantitative", "axis": null}, "y": {"field": "y", "type": "quantitative", "axis": null}}},
        {"data": {"name": "notes"}, "transform": [{"filter": "datum.panel == 'p4' && datum.kind == 'log'"}],
         "mark": {"type": "text", "align": "left", "baseline": "alphabetic", "dx": 81, "font": "DejaVu Serif", "fontStyle": "italic", "fontSize": 15, "color": "#222"},
         "encoding": {"x": {"field": "x", "type": "quantitative", "axis": null}, "y": {"field": "y", "type": "quantitative", "axis": null}, "text": {"field": "label"}}}
      ]
    }
  ],
  "config": {
    "view": {"stroke": null},
    "axis": {
      "grid": false, "zindex": 1, "domainColor": "#555", "domainWidth": 1, "tickColor": "#555", "tickWidth": 1,
      "labelFont": "DejaVu Serif", "labelFontSize": 16, "labelColor": "#333", "labelFlush": false, "labelOverlap": false,
      "titleFont": "DejaVu Serif", "titleFontStyle": "italic", "titleFontWeight": "normal", "titleFontSize": 20, "titleColor": "#222"
    }
  }
}
